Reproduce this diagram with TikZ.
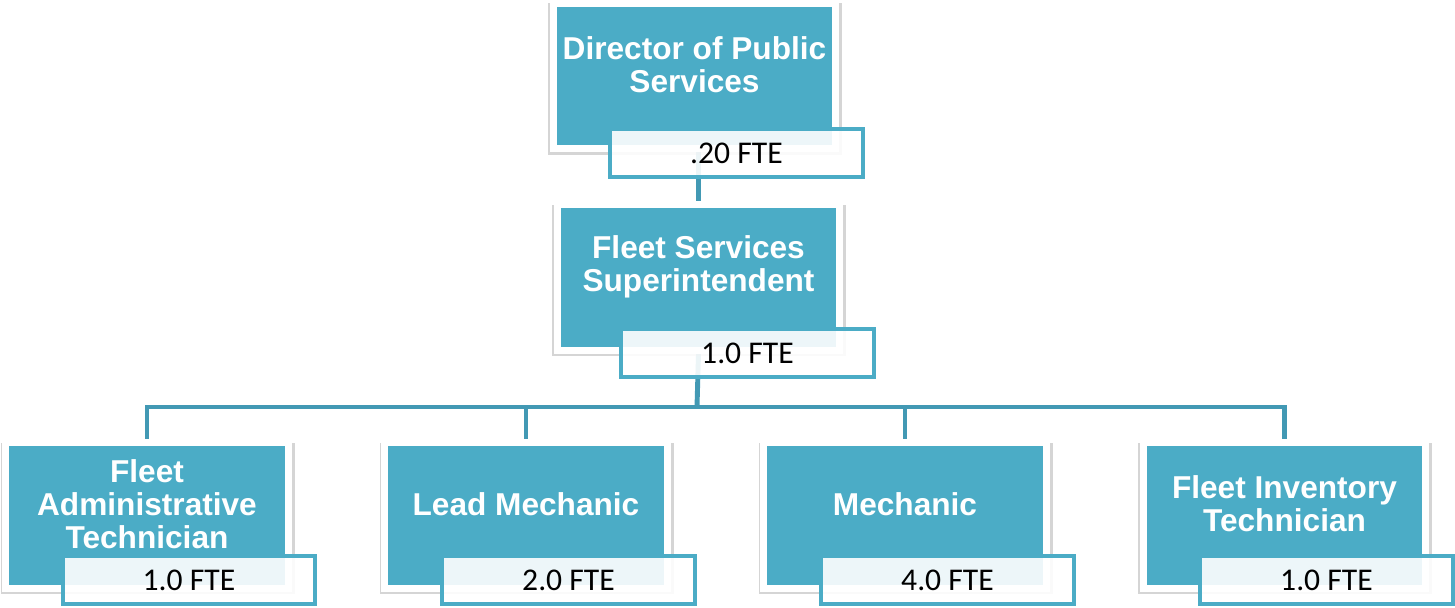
\documentclass[tikz,border=0pt]{standalone}
\usepackage{fontspec}
\setmainfont{Liberation Sans}
\newfontfamily\ftefont{Carlito}
\usetikzlibrary{shadows,backgrounds}

\definecolor{teal1}{HTML}{4BACC6}
\definecolor{teal2}{HTML}{4299B4}

\tikzset{
  role/.style={rectangle, fill=teal1, draw=white, line width=3.97pt,
    minimum width=5.66cm, minimum height=2.92cm, inner sep=0pt,
    drop shadow={shadow xshift=0.4pt, shadow yshift=-1.6pt, shadow scale=1.04,
      opacity=0.3, fill=black!55}},
  roletext/.style={text=white, align=center, inner sep=0pt,
    font=\fontsize{18}{18.7}\selectfont\bfseries},
  fte/.style={rectangle, draw=teal1, line width=2.3pt, fill=white, fill opacity=0.9,
    text opacity=1, minimum width=5.06cm, minimum height=0.96cm, inner sep=0pt,
    font=\ftefont\fontsize{18}{20}\selectfont},
  link/.style={draw=teal2, line width=2.8pt}
}

\begin{document}
\begin{tikzpicture}[x=0.02cm, y=-0.02cm]
\useasboundingbox (0,0) rectangle (1455,608);

% top
\node[role] (dps) at (694.5,76) {};
\node[roletext] (dps-t) at (694.5,65) {Director of Public\\Services};
\node[fte] (dps-f) at (736.5,153) {.20 FTE};

\node[role] (fss) at (698.5,277.5) {};
\node[roletext] (fss-t) at (698.5,267) {Fleet Services\\Superintendent};
\node[fte] (fss-f) at (747.5,353) {1.0 FTE};

% bottom row
\node[role] (fat) at (147,515.5) {};
\node[roletext] (fat-t) at (147,504) {Fleet\\Administrative\\Technician};
\node[fte] (fat-f) at (189,580) {1.0 FTE};

\node[role] (lm) at (526,515.5) {};
\node[roletext] (lm-t) at (526,504) {Lead Mechanic};
\node[fte] (lm-f) at (568.5,580) {2.0 FTE};

\node[role] (mech) at (905,515.5) {};
\node[roletext] (mech-t) at (905,504) {Mechanic};
\node[fte] (mech-f) at (947.5,580) {4.0 FTE};

\node[role] (fit) at (1284.5,515.5) {};
\node[roletext] (fit-t) at (1284.5,504) {Fleet Inventory\\Technician};
\node[fte] (fit-f) at (1326.5,580) {1.0 FTE};

\coordinate (bus) at (697,407);

\begin{scope}[on background layer]
\draw[link] (fss.north |- dps.center) -- (fss.north);
\draw[link] (fss.south) -- (bus);
\draw[link] (fat.north) |- (bus) -| (fit.north);
\draw[link] (lm.north) -- (lm.north |- bus);
\draw[link] (mech.north) -- (mech.north |- bus);
\end{scope}
\end{tikzpicture}
\end{document}
